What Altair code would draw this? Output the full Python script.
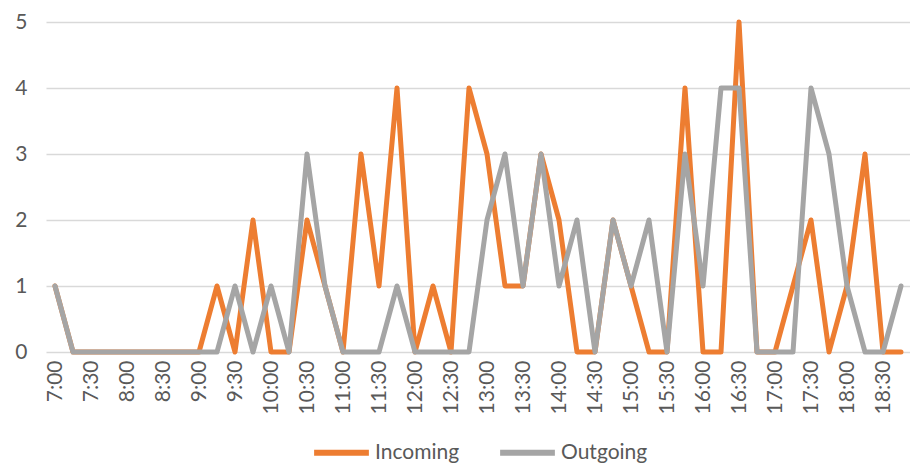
import altair as alt
import pandas as pd

times = []
for h in range(7, 19):
    for m in (0, 15, 30, 45):
        times.append(f"{h}:{m:02d}")

incoming = [1, 0, 0, 0, 0, 0, 0, 0, 0, 1, 0, 2, 0, 0, 2, 1, 0, 3, 1, 4, 0, 1, 0, 4,
            3, 1, 1, 3, 2, 0, 0, 2, 1, 0, 0, 4, 0, 0, 5, 0, 0, 1, 2, 0, 1, 3, 0, 0]
outgoing = [1, 0, 0, 0, 0, 0, 0, 0, 0, 0, 1, 0, 1, 0, 3, 1, 0, 0, 0, 1, 0, 0, 0, 0,
            2, 3, 1, 3, 1, 2, 0, 2, 1, 2, 0, 3, 1, 4, 4, 0, 0, 0, 4, 3, 1, 0, 0, 1]

series = ["Incoming", "Outgoing"]
colors = ["#ED7D31", "#A5A5A5"]

label_values = [t for t in times if t.endswith(":00") or t.endswith(":30")]

df = pd.DataFrame({
    "time": times * 2,
    "count": incoming + outgoing,
    "series": ["Incoming"] * len(times) + ["Outgoing"] * len(times),
})

FONT = "Lato"

chart = alt.Chart(df).mark_line(strokeWidth=5, strokeJoin="round", strokeCap="round").encode(
    x=alt.X("time:O", sort=times, title=None,
            scale=alt.Scale(type="point", padding=0.5),
            axis=alt.Axis(values=label_values, labelAngle=270, labelAlign="right",
                          labelBaseline="middle", labelPadding=8, ticks=False,
                          domain=False, grid=False, labelFontSize=21,
                          labelColor="#595959", labelFont=FONT)),
    y=alt.Y("count:Q", title=None,
            scale=alt.Scale(domain=[0, 5], nice=False),
            axis=alt.Axis(values=[0, 1, 2, 3, 4, 5], ticks=False, domain=False,
                          grid=True, gridColor="#d9d9d9", gridWidth=1.5,
                          labelPadding=19, labelFontSize=21, labelColor="#595959",
                          labelFont=FONT)),
    color=alt.Color("series:N", sort=series,
                    scale=alt.Scale(domain=series, range=colors),
                    legend=alt.Legend(title=None, orient="none", direction="horizontal",
                                      legendX=265, legendY=400,
                                      symbolType="stroke", symbolStrokeWidth=6,
                                      symbolSize=3000, labelFontSize=21,
                                      labelColor="#595959", labelFont=FONT,
                                      columnPadding=28, labelOffset=3)),
).properties(
    width=864, height=330,
    padding={"left": 38, "top": 14, "right": 0, "bottom": 111},
    autosize=alt.AutoSizeParams(type="none"),
).configure_view(stroke=None)

chart.save("out.html", embed_options={"renderer": "svg", "actions": False})
